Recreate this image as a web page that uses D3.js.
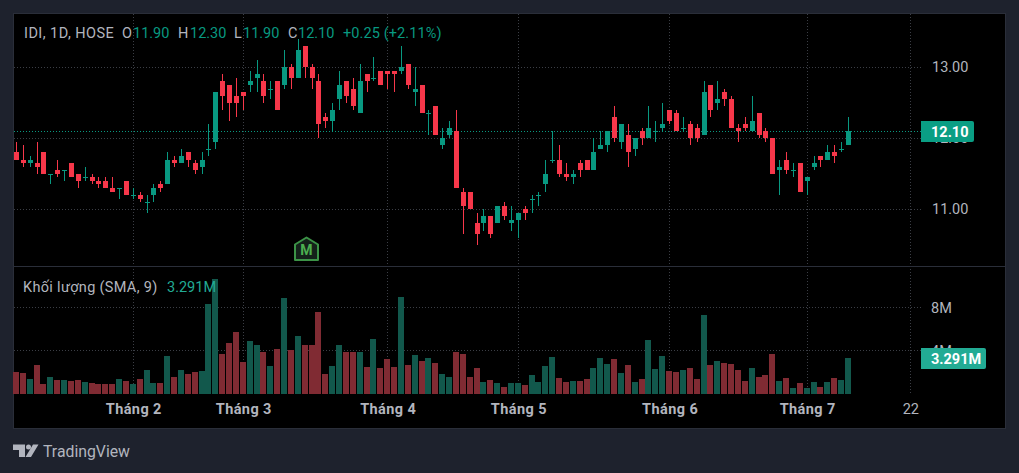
<!DOCTYPE html>
<html>
  <head>
    <title>IDI, 1D, HOSE</title>
    <script src="https://d3js.org/d3.v7.min.js"></script>
    <style>
        html, body { margin: 0; padding: 0; background: #1e222d; }
        svg { display: block; }
        text { font-family: Roboto, sans-serif; }
        .tick line { display: none; }
        .domain { display: none; }
    </style>
  </head>
  <body>
    <svg id="chart" width="1019" height="473"></svg>
  </body>
  <script>
    // daily candles
    const opens = [11.80,11.70,11.65,11.65,11.80,11.50,11.55,11.55,11.65,11.50,11.45,11.45,11.40,11.40,11.30,11.30,11.40,11.20,11.20,11.10,
      11.20,11.35,11.35,11.70,11.65,11.80,11.65,11.60,11.85,11.95,12.80,12.75,12.60,12.65,12.75,12.85,12.80,12.70,12.80,12.75,
      13.00,12.85,13.30,13.00,12.80,12.30,12.25,12.55,12.80,12.70,12.35,12.90,12.85,12.95,12.95,12.95,12.95,13.05,12.65,12.75,
      12.35,12.45,11.90,12.05,12.10,11.25,11.25,10.80,10.80,10.90,10.80,11.05,10.80,10.85,11.00,11.15,11.20,11.35,11.70,11.70,
      11.50,11.45,11.65,11.70,11.55,11.85,11.90,12.30,11.95,12.05,11.85,12.10,12.00,12.10,12.15,12.40,12.35,12.15,12.20,12.15,
      12.05,12.75,12.50,12.65,12.55,12.15,12.20,12.10,12.35,12.10,12.00,11.55,11.70,11.55,11.65,11.40,11.60,11.75,11.70,11.80,
      11.85,11.90];
    const highs = [11.95,11.90,11.75,11.95,11.80,11.50,11.70,11.55,11.65,11.50,11.60,11.50,11.45,11.45,11.45,11.30,11.40,11.30,11.25,11.20,
      11.35,11.40,11.80,11.75,11.85,11.80,11.70,11.80,12.20,12.65,12.90,12.75,12.85,12.65,12.95,13.10,12.90,12.80,12.80,13.25,
      13.05,13.40,13.30,13.05,12.90,12.35,12.50,12.95,12.80,12.85,13.05,12.90,13.15,12.95,12.95,12.95,13.30,13.05,13.00,12.75,
      12.40,12.45,12.15,12.25,12.40,11.30,11.25,10.95,11.00,10.90,11.05,11.10,11.05,10.95,11.05,11.20,11.25,11.70,12.10,11.90,
      11.65,11.55,11.70,11.70,12.00,12.10,12.10,12.45,12.20,12.20,12.00,12.15,12.45,12.25,12.50,12.40,12.40,12.30,12.25,12.20,
      12.80,12.75,12.80,12.70,12.60,12.20,12.30,12.60,12.35,12.15,12.00,11.70,11.80,11.65,11.65,11.45,11.75,11.75,11.90,11.90,
      11.95,12.30];
    const lows = [11.70,11.60,11.60,11.50,11.50,11.35,11.45,11.40,11.45,11.30,11.40,11.35,11.30,11.30,11.25,11.15,11.20,11.15,11.10,10.95,
      11.10,11.25,11.35,11.60,11.65,11.60,11.50,11.50,11.75,11.85,12.40,12.25,12.30,12.40,12.65,12.65,12.50,12.55,12.40,12.70,
      12.70,12.85,12.85,12.70,12.00,12.15,12.10,12.40,12.50,12.40,12.35,12.65,12.80,12.75,12.70,12.65,12.90,12.70,12.45,12.35,
      12.05,12.05,11.85,12.00,11.30,10.65,11.00,10.50,10.70,10.60,10.80,10.85,10.70,10.60,10.85,10.95,11.05,11.25,11.65,11.45,
      11.40,11.35,11.45,11.55,11.55,11.85,11.80,11.95,11.85,11.60,11.75,11.90,12.00,11.95,12.10,12.20,12.10,12.10,11.90,11.95,
      12.05,12.30,12.40,12.45,12.15,11.95,12.10,12.10,12.00,11.95,11.50,11.20,11.50,11.45,11.25,11.20,11.55,11.60,11.70,11.65,
      11.80,11.90];
    const closes = [11.70,11.65,11.70,11.60,11.50,11.50,11.50,11.55,11.45,11.40,11.45,11.40,11.35,11.30,11.25,11.30,11.20,11.20,11.15,11.10,
      11.30,11.30,11.70,11.65,11.75,11.70,11.55,11.70,11.85,12.65,12.60,12.50,12.50,12.60,12.80,12.90,12.60,12.70,12.40,13.00,
      12.85,13.25,13.00,12.85,12.20,12.25,12.40,12.75,12.60,12.45,12.80,12.80,12.85,12.75,12.90,12.90,13.00,12.75,12.70,12.35,
      12.35,12.05,12.00,12.15,11.30,11.05,11.00,10.65,10.90,10.65,11.05,10.90,10.85,10.95,10.95,11.15,11.20,11.50,11.70,11.50,
      11.45,11.50,11.55,11.55,11.80,11.90,12.10,12.00,12.20,11.80,12.00,12.00,12.15,12.10,12.20,12.25,12.10,12.15,12.00,12.00,
      12.65,12.40,12.55,12.55,12.15,12.10,12.15,12.25,12.05,12.00,11.50,11.60,11.55,11.55,11.25,11.45,11.65,11.70,11.80,11.75,
      11.85,12.10];
    // volume in millions
    const volumes = [2.05,1.96,1.40,2.70,0.93,1.58,1.30,1.30,1.21,1.30,1.12,1.02,0.93,0.93,0.93,1.40,1.21,0.93,1.40,2.24,
      1.02,1.02,3.54,1.58,2.24,1.86,2.05,2.14,8.29,10.62,3.73,4.75,5.78,2.98,4.94,4.57,3.91,2.61,4.19,8.85,
      4.10,5.40,4.57,4.57,7.55,1.86,2.61,4.57,3.91,3.91,3.91,2.52,5.12,2.42,3.26,2.52,8.94,2.70,3.63,3.07,
      3.35,2.89,1.86,1.58,3.91,3.73,1.58,2.42,1.12,1.30,1.02,0.65,1.02,1.02,0.84,1.77,1.12,2.61,3.45,1.49,
      1.12,1.21,1.21,1.40,2.42,3.35,2.80,3.26,1.96,2.70,1.12,1.40,5.03,2.33,3.54,2.14,2.05,2.24,2.42,1.40,
      7.27,2.70,3.07,2.89,2.80,2.24,1.21,2.42,1.58,1.77,3.73,1.21,1.49,0.56,1.02,0.56,1.12,0.65,1.12,1.49,
      1.30,3.291];

    const priceTicks = [11, 12, 13];
    const volumeTicks = [4, 8];
    const timeTicks = [17, 33, 54, 73, 95, 115, 130];
    const timeLabels = ["Tháng 2", "Tháng 3", "Tháng 4", "Tháng 5", "Tháng 6", "Tháng 7", "22"];

    const UP = "#089981", DOWN = "#f7374a";
    const UP_VOL = "#12584c", DOWN_VOL = "#802b33";
    const GRID = "#3b3e45", TEXT = "#b2b5be";

    const svg = d3.select("#chart");

    // frame
    svg.append("rect").attr("width", 1019).attr("height", 473).attr("fill", "#1e222d");
    svg.append("rect").attr("x", 13.5).attr("y", 13.5).attr("width", 992).attr("height", 415)
      .attr("fill", "#000").attr("stroke", "#2a2e39");

    const x = d3.scaleLinear().domain([0, 121]).range([16.4, 848.4]);
    const y = d3.scaleLinear().domain([11, 13]).range([209.3, 67.3]);
    const v = d3.scaleLinear().domain([0, 8]).range([394, 307.6]);
    const px = i => Math.floor(x(i));

    // grid
    const grid = svg.append("g").attr("stroke", GRID).attr("stroke-dasharray", "1,2");
    grid.selectAll(".gx").data(timeTicks).enter().append("line")
      .attr("x1", d => px(d) + 0.5).attr("x2", d => px(d) + 0.5)
      .attr("y1", 14).attr("y2", 394);
    grid.selectAll(".gy").data(priceTicks).enter().append("line")
      .attr("x1", 14).attr("x2", 921)
      .attr("y1", d => Math.floor(y(d)) + 0.5).attr("y2", d => Math.floor(y(d)) + 0.5);
    grid.selectAll(".gv").data(volumeTicks).enter().append("line")
      .attr("x1", 14).attr("x2", 921)
      .attr("y1", d => Math.floor(v(d)) + 0.5).attr("y2", d => Math.floor(v(d)) + 0.5);

    // pane separator
    svg.append("line").attr("x1", 14).attr("x2", 1005).attr("y1", 266.5).attr("y2", 266.5)
      .attr("stroke", "#2a2e39");

    // last price line
    svg.append("line").attr("x1", 14).attr("x2", 921)
      .attr("y1", Math.floor(y(closes[121])) + 0.5).attr("y2", Math.floor(y(closes[121])) + 0.5)
      .attr("stroke", UP).attr("stroke-dasharray", "1,2");

    // volume bars
    svg.append("g").selectAll("rect").data(volumes).enter().append("rect")
      .attr("x", (d, i) => px(i) - 3)
      .attr("width", 6)
      .attr("y", d => Math.round(v(d)))
      .attr("height", d => 394 - Math.round(v(d)))
      .attr("fill", (d, i) => closes[i] >= opens[i] ? UP_VOL : DOWN_VOL);

    // candles
    const candles = svg.append("g").selectAll("g").data(d3.range(opens.length)).enter().append("g")
      .attr("fill", i => closes[i] >= opens[i] ? UP : DOWN);
    candles.append("rect")
      .attr("x", i => px(i))
      .attr("width", 1)
      .attr("y", i => Math.round(y(highs[i])))
      .attr("height", i => Math.max(1, Math.round(y(lows[i])) - Math.round(y(highs[i]))));
    candles.append("rect")
      .attr("x", i => px(i) - 2)
      .attr("width", 5)
      .attr("y", i => Math.round(y(Math.max(opens[i], closes[i]))))
      .attr("height", i => Math.max(1, Math.round(y(Math.min(opens[i], closes[i]))) - Math.round(y(Math.max(opens[i], closes[i])))));

    // axes
    const priceAxis = svg.append("g").attr("transform", "translate(920,0)")
      .call(d3.axisRight(y).tickValues(priceTicks).tickSize(0).tickPadding(12).tickFormat(d3.format(".2f")));
    const volAxis = svg.append("g").attr("transform", "translate(920,0)")
      .call(d3.axisRight(v).tickValues(volumeTicks).tickSize(0).tickPadding(11).tickFormat(d => d + "M"));
    const timeAxis = svg.append("g").attr("transform", "translate(0,394)")
      .call(d3.axisBottom(x).tickValues(timeTicks).tickSize(0).tickPadding(10).tickFormat((d, i) => timeLabels[i]));
    [priceAxis, volAxis, timeAxis].forEach(a => a.selectAll("text")
      .attr("fill", TEXT).style("font-size", "14.5px").style("font-family", 'Roboto, sans-serif'));
    timeAxis.selectAll("text").style("font-weight", d => d === 130 ? 400 : 700)
      .style("letter-spacing", d => d === 130 ? "0" : "0.4px");

    // last value tags
    svg.append("path").attr("d", "M921,121H972a2,2 0 0 1 2,2V140a2,2 0 0 1 -2,2H921Z").attr("fill", "#0a9e84");
    svg.append("text").attr("x", 931).attr("y", 137).attr("fill", "#fff")
      .style("font-size", "14.5px").style("font-weight", 700).text("12.10");
    svg.append("path").attr("d", "M921,348H984a2,2 0 0 1 2,2V367a2,2 0 0 1 -2,2H921Z").attr("fill", "#22ab94");
    svg.append("text").attr("x", 931).attr("y", 364).attr("fill", "#fff")
      .style("font-size", "14.5px").style("font-weight", 700).text("3.291M");

    // header legend
    const legendParts = [
      [24, "IDI, 1D, HOSE", TEXT, 0.45], [122, "O", TEXT, 0], [133, "11.90", UP, 0], [178, "H", TEXT, 0], [190, "12.30", UP, 0],
      [234, "L", TEXT, 0], [243, "11.90", UP, 0], [288, "C", TEXT, 0], [298, "12.10", UP, 0], [343, "+0.25 (+2.11%)", UP, 0.1]
    ];
    svg.append("g").selectAll("text").data(legendParts).enter().append("text")
      .attr("x", d => d[0]).attr("y", 38).attr("fill", d => d[2])
      .style("font-size", "14.5px").style("letter-spacing", d => d[3] + "px").text(d => d[1]);

    svg.append("text").attr("x", 23).attr("y", 292).attr("fill", TEXT)
      .style("font-size", "14.5px").style("letter-spacing", "0.32px").text("Khối lượng (SMA, 9)");
    svg.append("text").attr("x", 167).attr("y", 292).attr("fill", "#22ab94")
      .style("font-size", "14.5px").text("3.291M");

    // M marker
    svg.append("path").attr("d", "M306.5,237.5L318,244.5V260H295V244.5Z")
      .attr("fill", "#14211a").attr("stroke", "#3c9347").attr("stroke-width", 2).attr("stroke-linejoin", "round");
    svg.append("text").attr("x", 306.5).attr("y", 255).attr("text-anchor", "middle").attr("fill", "#4caf50")
      .style("font-size", "14px").style("font-weight", 700).text("M");

    // logo
    svg.append("path").attr("fill", TEXT)
      .attr("d", "M13,444.5H25V457H19V450H13Z M33,444.5H38.5L31,457H25.5Z");
    svg.append("circle").attr("cx", 28.5).attr("cy", 447).attr("r", 2.5).attr("fill", TEXT);
    svg.append("text").attr("x", 43).attr("y", 457).attr("fill", TEXT)
      .style("font-size", "15.8px").text("TradingView");
  </script>
</html>
